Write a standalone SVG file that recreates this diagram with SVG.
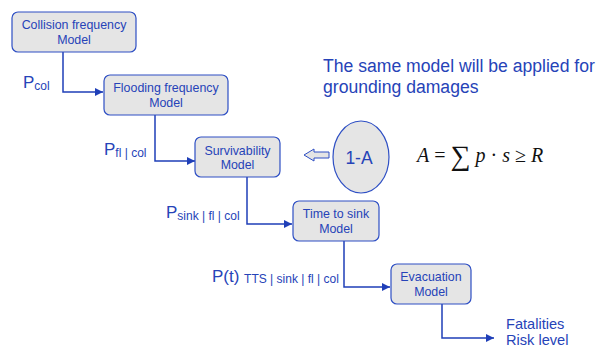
<svg xmlns="http://www.w3.org/2000/svg" width="600" height="349" viewBox="0 0 600 349">
<defs>
<style>
.box{fill:#e5e5e5;stroke:#2e4fc4;stroke-width:1.2}
.bt{font-family:"Liberation Sans",Arial,sans-serif;font-size:12.4px;fill:#2643b8;text-anchor:middle}
.lbl{font-family:"Liberation Sans",Arial,sans-serif;fill:#2643b8}
.sub{font-size:12px}
.con{fill:none;stroke:#1f3fb8;stroke-width:1.5}
</style>
<marker id="ah" viewBox="0 0 10 10" refX="10" refY="5" markerWidth="8" markerHeight="8" markerUnits="userSpaceOnUse" orient="auto">
<path d="M0,0 L10,5 L0,10 z" fill="#1f3fb8"/>
</marker>
</defs>
<rect width="600" height="349" fill="#fff"/>
<g id="connectors">
<polyline class="con" points="63,52 63,92 103,92" marker-end="url(#ah)"/>
<polyline class="con" points="155,115 155,161 195,161" marker-end="url(#ah)"/>
<polyline class="con" points="247,177 247,224 292,224" marker-end="url(#ah)"/>
<polyline class="con" points="344,241 344,287 390,287" marker-end="url(#ah)"/>
<polyline class="con" points="442,304 442,338 494,338" marker-end="url(#ah)"/>
</g>
<g id="n1"><rect class="box" x="12" y="12" width="124" height="40" rx="6"/><text class="bt" x="74" y="29">Collision frequency</text><text class="bt" x="74" y="44">Model</text></g>
<g id="n2"><rect class="box" x="104" y="75" width="124" height="40" rx="6"/><text class="bt" x="166" y="92">Flooding frequency</text><text class="bt" x="166" y="107">Model</text></g>
<g id="n3"><rect class="box" x="195" y="137" width="85" height="40" rx="6"/><text class="bt" x="237.5" y="155">Survivability</text><text class="bt" x="237.5" y="169">Model</text></g>
<g id="n4"><rect class="box" x="293" y="201" width="86" height="40" rx="6"/><text class="bt" x="336" y="218">Time to sink</text><text class="bt" x="336" y="233">Model</text></g>
<g id="n5"><rect class="box" x="391" y="264" width="80" height="40" rx="6"/><text class="bt" x="431" y="281">Evacuation</text><text class="bt" x="431" y="296">Model</text></g>
<g id="lbl1"><text class="lbl" x="23" y="88" font-size="17">P<tspan class="sub" dy="2">col</tspan></text></g>
<g id="lbl2"><text class="lbl" x="104" y="155" font-size="17">P<tspan class="sub" dy="2">fl | col</tspan></text></g>
<g id="lbl3"><text class="lbl" x="166" y="218" font-size="17">P<tspan class="sub" dy="2">sink | fl | col</tspan></text></g>
<g id="lbl4"><text class="lbl" x="212" y="282" font-size="17">P(t) <tspan class="sub" dy="1">TTS | sink | fl | col</tspan></text></g>
<g id="out"><text class="lbl" x="506" y="329" font-size="14.6">Fatalities</text><text class="lbl" x="506" y="345" font-size="14.6">Risk level</text></g>
<g id="note"><text class="lbl" x="323" y="72" font-size="17.6">The same model will be applied for</text><text class="lbl" x="323" y="93" font-size="17.6">grounding damages</text></g>
<g id="ellipse"><ellipse cx="361" cy="157" rx="28" ry="36" fill="#e5e5e5" stroke="#2e4fc4" stroke-width="1.2"/><text class="lbl" x="359" y="164" font-size="17.5" text-anchor="middle">1-A</text></g>
<g id="harrow"><path d="M304,155 L314,149 L314,152 L329,152 L329,158 L314,158 L314,161 Z" fill="#e5e5e5" stroke="#2e4fc4" stroke-width="1"/></g>
<g id="formula"><text x="417" y="162" font-family="'Liberation Serif','Times New Roman',serif" font-size="20" fill="#111"><tspan font-style="italic">A</tspan> = <tspan font-size="28" dy="3">∑</tspan><tspan dy="-3"> </tspan><tspan font-style="italic">p</tspan> · <tspan font-style="italic">s</tspan> ≥ <tspan font-style="italic">R</tspan></text></g>
</svg>
